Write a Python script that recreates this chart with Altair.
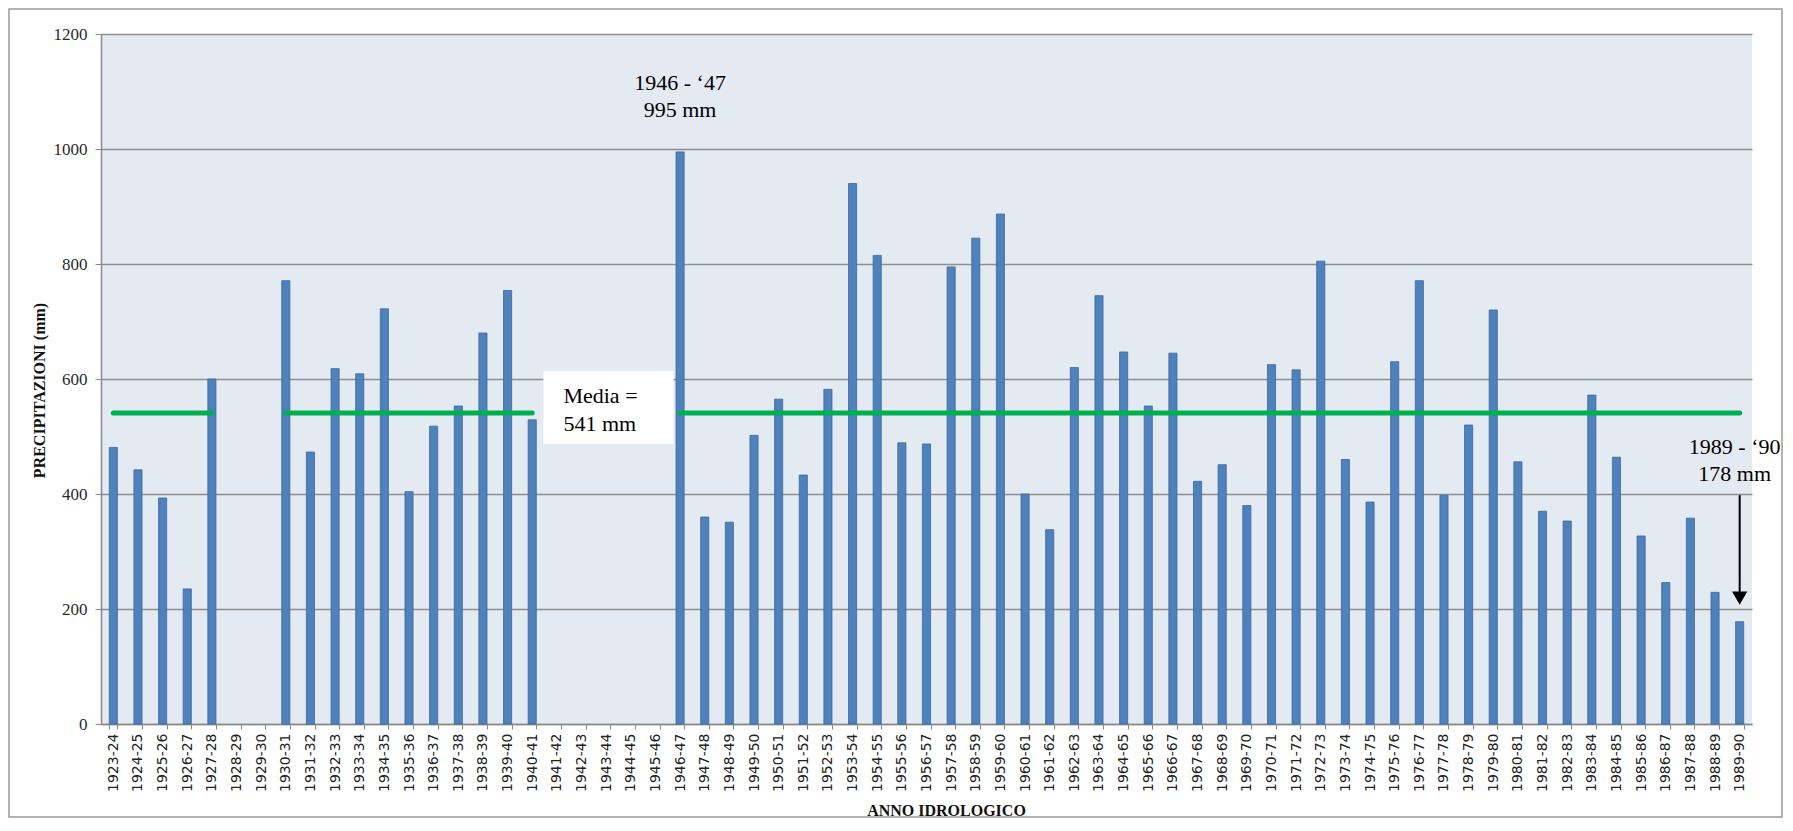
import altair as alt
import pandas as pd

years = [
    "1923-24", "1924-25", "1925-26", "1926-27", "1927-28", "1928-29", "1929-30",
    "1930-31", "1931-32", "1932-33", "1933-34", "1934-35", "1935-36", "1936-37",
    "1937-38", "1938-39", "1939-40", "1940-41", "1941-42", "1942-43", "1943-44",
    "1944-45", "1945-46", "1946-47", "1947-48", "1948-49", "1949-50", "1950-51",
    "1951-52", "1952-53", "1953-54", "1954-55", "1955-56", "1956-57", "1957-58",
    "1958-59", "1959-60", "1960-61", "1961-62", "1962-63", "1963-64", "1964-65",
    "1965-66", "1966-67", "1967-68", "1968-69", "1969-70", "1970-71", "1971-72",
    "1972-73", "1973-74", "1974-75", "1975-76", "1976-77", "1977-78", "1978-79",
    "1979-80", "1980-81", "1981-82", "1982-83", "1983-84", "1984-85", "1985-86",
    "1986-87", "1987-88", "1988-89", "1989-90",
]
precip = [
    481, 442, 393, 235, 600, None, None,
    771, 473, 618, 609, 722, 404, 518,
    553, 680, 754, 529, None, None, None,
    None, None, 995, 360, 351, 502, 565,
    433, 582, 940, 815, 489, 487, 795,
    845, 887, 400, 338, 620, 745, 647,
    553, 645, 422, 451, 380, 625, 616,
    805, 460, 386, 630, 771, 398, 520,
    720, 456, 370, 353, 572, 464, 327,
    246, 358, 229, 178,
]
mean_value = 541
mean_label = ["Media =", "541 mm"]
mean_label_anchor = "1943-44"

peak_years = ["1946-47", "1989-90"]
peak_values = [995, 178]
peak_labels = [["1946 - \u201847", "995 mm"], ["1989 - \u201890", "178 mm"]]

# ---------------- layout / style ----------------
W, H = 1651, 690
PAD = {"left": 93, "top": 26, "right": 31, "bottom": 94}
BG_PLOT = "#E4EAF2"
BAR = "#4F81BD"
BAR_EDGE = "#3B6898"
GREEN = "#00B050"
GRID = "#8E8E8E"
SERIF = "Liberation Serif"

df = pd.DataFrame({"anno": years, "val": precip})
bars_df = df.dropna().copy()

# mean line segments: one per run of consecutive years with data
seg_ids, seg, prev = [], 0, False
for v in precip:
    has = v is not None
    if has and not prev:
        seg += 1
    seg_ids.append(seg if has else None)
    prev = has
mean_df = pd.DataFrame({"anno": years, "seg": seg_ids})
mean_df = mean_df.dropna().copy()
mean_df["val"] = mean_value

x_axis = alt.Axis(
    labelAngle=-90, labelFont="DejaVu Sans", labelFontSize=14, labelColor="#222222",
    labelPadding=4, tickBand="extent", tickSize=5, tickColor="#8a8a8a",
    domainColor="#8a8a8a", domainWidth=1.5, grid=False,
    title="ANNO IDROLOGICO", titleFont=SERIF, titleFontSize=16, titleFontWeight="bold",
    titleColor="#111111", titleX=845, titleY=91, titleBaseline="alphabetic", titleAlign="center",
)
y_axis = alt.Axis(
    values=[0, 200, 400, 600, 800, 1000, 1200], format="d", labelFont=SERIF, labelFontSize=17,
    labelColor="#2a2a2a", labelPadding=8, tickSize=6, tickColor="#8a8a8a",
    domainColor="#8a8a8a", domainWidth=1.5, grid=True, gridColor=GRID, gridWidth=1.5,
    title="PRECIPITAZIONI (mm)", titleFont=SERIF, titleFontSize=16, titleFontWeight="bold",
    titleColor="#111111", titleX=-62, titleY=356, titleAngle=-90,
    titleAlign="center", titleBaseline="middle",
)
x_scale = alt.Scale(domain=years, paddingInner=0.67, paddingOuter=0.335)
y_scale = alt.Scale(domain=[0, 1200], nice=False)


def X(band=0.5):
    return alt.X("anno:N", scale=x_scale, axis=x_axis, bandPosition=band, sort=years)


Y = alt.Y("val:Q", scale=y_scale, axis=y_axis)

border = alt.Chart(pd.DataFrame({"k": [0]})).mark_rect(
    fill="white", fillOpacity=0, stroke="#9a9a9a", strokeWidth=1.5
).encode(
    x=alt.value(-PAD["left"] + 1), x2=alt.value(W + PAD["right"] - 1),
    y=alt.value(-PAD["top"] + 1), y2=alt.value(H + PAD["bottom"] - 1),
)

bars = alt.Chart(bars_df).mark_bar(
    fill=BAR, stroke=BAR_EDGE, strokeWidth=0.8
).encode(x=alt.X("anno:N", scale=x_scale, axis=x_axis, sort=years), y=Y)

mean_line = alt.Chart(mean_df).mark_line(
    color=GREEN, strokeWidth=5, strokeCap="round"
).encode(x=X(0.5), y=Y, detail="seg:N")

box_df = pd.DataFrame({"anno": [mean_label_anchor], "val": [mean_value], "t": [mean_label]})
box = alt.Chart(box_df).mark_point(
    shape="M-1,-0.64H1V0.47H-1Z", size=128 * 128, filled=True,
    fill="white", stroke="white", opacity=1,
).encode(x=X(0.78), y=Y)
box_text = alt.Chart(box_df).mark_text(
    align="left", baseline="alphabetic", font=SERIF, fontSize=22, color="black",
    dx=-45, dy=-10, lineHeight=28,
).encode(x=X(0.78), y=Y, text="t")

peak1 = alt.Chart(pd.DataFrame({"anno": [peak_years[0]], "val": [peak_values[0]], "t": [peak_labels[0]]})).mark_text(
    align="center", baseline="alphabetic", font=SERIF, fontSize=22, color="black",
    dy=-62, lineHeight=27,
).encode(x=X(0.5), y=Y, text="t")

peak2_df = pd.DataFrame({"anno": [peak_years[1]], "val": [peak_values[1]], "t": [peak_labels[1]]})
peak2 = alt.Chart(peak2_df).mark_text(
    align="center", baseline="alphabetic", font=SERIF, fontSize=22, color="black",
    dx=-5, dy=-168, lineHeight=27,
).encode(x=X(0.5), y=Y, text="t")

arrow_df = pd.DataFrame({"anno": [peak_years[1]], "val": [peak_values[1] + 220], "val2": [peak_values[1] + 45]})
arrow_shaft = alt.Chart(arrow_df).mark_rule(color="black", strokeWidth=2).encode(
    x=X(0.5), y=Y, y2="val2:Q"
)
head_df = pd.DataFrame({"anno": [peak_years[1]], "val": [peak_values[1] + 41]})
arrow_head = alt.Chart(head_df).mark_point(
    shape="triangle-down", size=230, filled=True, color="black", opacity=1
).encode(x=X(0.5), y=Y)

chart = alt.layer(
    border, bars, mean_line, box, box_text, peak1, peak2, arrow_shaft, arrow_head
).properties(
    width=W, height=H, padding=PAD, autosize=alt.AutoSizeParams(type="none"),
    background="white",
).configure_view(fill=BG_PLOT, stroke=None)

chart.save("out.html", embed_options={"renderer": "svg", "actions": False})
